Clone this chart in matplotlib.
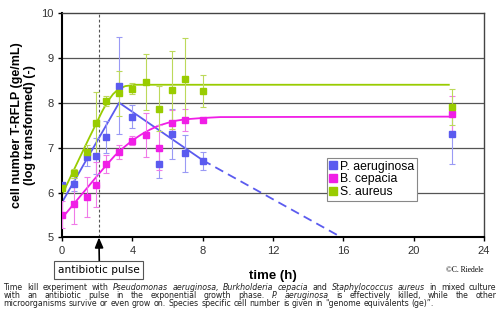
import matplotlib
matplotlib.use("Agg")
import matplotlib.pyplot as plt
import numpy as np

# measured time points (h)
time = [0, 0.7, 1.45, 1.95, 2.5, 3.25, 4, 4.75, 5.5, 6.25, 7, 8, 22.2]

# log cell numbers and error bars
p_aer = [6.17, 6.18, 6.78, 6.82, 7.24, 8.38, 7.69, np.nan, 6.63, 7.3, 6.87, 6.71, 7.3]
p_aer_err = [0.05, 0.15, 0.2, 0.4, 0.35, 1.08, 0.25, np.nan, 0.3, 0.55, 0.42, 0.2, 0.66]
b_cep = [5.5, 5.75, 5.9, 6.17, 6.63, 6.9, 7.15, 7.28, 7.0, 7.54, 7.62, 7.62, 7.75]
b_cep_err = [0.3, 0.45, 0.45, 0.5, 0.2, 0.15, 0.1, 0.5, 0.5, 0.3, 0.25, 0.05, 0.4]
s_aur = [6.09, 6.43, 6.91, 7.54, 8.04, 8.21, 8.31, 8.46, 7.87, 8.28, 8.52, 8.26, 7.9]
s_aur_err = [0.05, 0.1, 0.15, 0.7, 0.12, 0.5, 0.12, 0.62, 0.5, 0.87, 0.92, 0.35, 0.4]

# model curves (vertices)
p_fit_t = [0, 3.25, 8]
p_fit_v = [5.78, 8.0, 6.72]
p_ext_t = [8, 15.9]
p_ext_v = [6.72, 5.0]
b_fit_t = [0, 1, 2, 2.5, 3, 3.5, 4, 4.5, 5, 5.5, 6, 6.5, 7, 8, 9, 22.2]
b_fit_v = [5.43, 5.9, 6.37, 6.6, 6.82, 7.0, 7.16, 7.29, 7.4, 7.49, 7.55, 7.6, 7.63, 7.66, 7.68, 7.69]
s_fit_t = [0, 1, 1.5, 2, 2.3, 2.6, 2.9, 3.2, 3.6, 4.2, 22]
s_fit_v = [5.95, 6.77, 7.18, 7.58, 7.82, 8.03, 8.19, 8.3, 8.37, 8.4, 8.4]

pulse_t = 2.1
labels = ["P. aeruginosa", "B. cepacia", "S. aureus"]

blue, pink, green = "#5b5bef", "#f01ee6", "#99cc00"

fig = plt.figure(figsize=(5, 3.23), dpi=100)
ax = fig.add_axes([0.124, 0.265, 0.844, 0.695])

for y in range(6, 10):
    ax.axhline(y, color="#555555", lw=0.9, zorder=0)
ax.axvline(pulse_t, color="#555555", lw=0.8, ls=(0, (2.5, 2)), zorder=0)

# fit lines
ax.plot(p_fit_t, p_fit_v, color=blue, lw=1.3, zorder=2)
ax.plot(p_ext_t, p_ext_v, color=blue, lw=1.3, ls=(0, (5, 3)), zorder=2)
ax.plot(b_fit_t, b_fit_v, color=pink, lw=1.3, zorder=2)
ax.plot(s_fit_t, s_fit_v, color=green, lw=1.3, zorder=2)

handles = []
for vals, errs, c, ec in [(p_aer, p_aer_err, blue, "#9a9af5"),
                          (b_cep, b_cep_err, pink, "#f07ae8"),
                          (s_aur, s_aur_err, green, "#bcd95a")]:
    ax.errorbar(time, vals, yerr=errs, fmt="none", ecolor=ec, elinewidth=0.8,
                capsize=2.2, capthick=0.8, zorder=3)
    h, = ax.plot(time, vals, "s", color=c, ms=5, mec=c, zorder=4)
    handles.append(h)

ax.set_xlim(0, 24)
ax.set_ylim(5, 10)
ax.set_xticks(range(0, 25, 4))
ax.set_yticks(range(5, 11))
ax.tick_params(labelsize=8, labelcolor="#333333", length=3, width=1, direction="out",
               pad=3)
for t in ax.get_xticklabels() + ax.get_yticklabels():
    t.set_fontfamily("Liberation Sans")
for s in ["left", "bottom"]:
    ax.spines[s].set_linewidth(1.5)
    ax.spines[s].set_color("black")
for s in ["top", "right"]:
    ax.spines[s].set_linewidth(1.0)
    ax.spines[s].set_color("#444444")

ax.set_ylabel("cell number T-RFLP (ge/mL)\n(log transformed) (-)", fontsize=9,
              fontweight="bold", family="Liberation Sans", linespacing=1.1, labelpad=4)
ax.set_xlabel("time (h)", fontsize=9.5, fontweight="bold", family="Liberation Sans",
              labelpad=10)

leg = ax.legend(handles, labels, loc="upper left", bbox_to_anchor=(0.627, 0.355),
                prop={"family": "Liberation Sans", "size": 8.8},
                frameon=True, fancybox=False, edgecolor="#888888", framealpha=1,
                handlelength=0.55, handletextpad=0.3, borderpad=0.25, labelspacing=0.05,
                markerscale=1.25, borderaxespad=0)
leg.get_frame().set_linewidth(0.8)

# antibiotic pulse box and arrow
fig.text(98.5 / 500, 1 - 270 / 323, "antibiotic pulse", fontsize=7.6, ha="center",
         va="center", family="DejaVu Sans",
         bbox=dict(boxstyle="square,pad=0.35", fc="white", ec="#555555", lw=0.8))
ax.annotate("", xy=(pulse_t, 5), xycoords="data",
            xytext=(99.3 / 500, 1 - 261 / 323), textcoords="figure fraction",
            arrowprops=dict(arrowstyle="-|>,head_length=0.6,head_width=0.25",
                            color="black", lw=1.2, shrinkA=0, shrinkB=0),
            annotation_clip=False)

fig.text(483 / 500, 1 - 270 / 323, "\u00a9C. Riedele", fontsize=5.5, ha="right",
         va="center", family="Liberation Serif")

# justified caption
caption = [
    [("Time kill experiment with ", False), ("Pseudomonas aeruginosa,", True),
     (" ", False), ("Burkholderia cepacia", True), (" and ", False),
     ("Staphylococcus aureus", True), (" in mixed culture", False)],
    [("with an antibiotic pulse in the exponential growth phase. ", False),
     ("P. aeruginosa", True), (" is effectively killed, while the other", False)],
    [("microorganisms survive or even grow on. Species specific cell number is given in "
      "\"genome equivalents (ge)\u201d.", False)],
]
cap_y = [287, 295.5, 304]
x_left, x_right = 3.5, 496.5
last_line_width = 436

renderer = fig.canvas.get_renderer()


def text_width(s, size, italic=False):
    t = fig.text(0, 0, s, fontsize=size, family="DejaVu Sans",
                 style="italic" if italic else "normal")
    w = t.get_window_extent(renderer).width
    t.remove()
    return w


def split_words(parts):
    words = []
    for txt, it in parts:
        for w in txt.split():
            words.append((w, it))
    return words


# pick the font size so that the last (unjustified) line has the reference width
last_words = split_words(caption[-1])
natural = sum(text_width(w, 6, it) for w, it in last_words) + \
    (len(last_words) - 1) * (text_width("a a", 6) - text_width("aa", 6))
fs = 6 * last_line_width / natural
space_w = text_width("a a", fs) - text_width("aa", fs)

for li, parts in enumerate(caption):
    words = split_words(parts)
    arts = []
    widths = []
    for w, it in words:
        t = fig.text(0, 1 - cap_y[li] / 323, w, fontsize=fs, va="center", ha="left",
                     style="italic" if it else "normal", family="DejaVu Sans",
                     color="#222222")
        arts.append(t)
        widths.append(t.get_window_extent(renderer).width)
    if li < len(caption) - 1:
        gap = (x_right - x_left - sum(widths)) / (len(words) - 1)
    else:
        gap = space_w
    x = x_left
    for t, wd in zip(arts, widths):
        t.set_x(x / 500)
        x += wd + gap

fig.savefig("out.png", dpi=100)
